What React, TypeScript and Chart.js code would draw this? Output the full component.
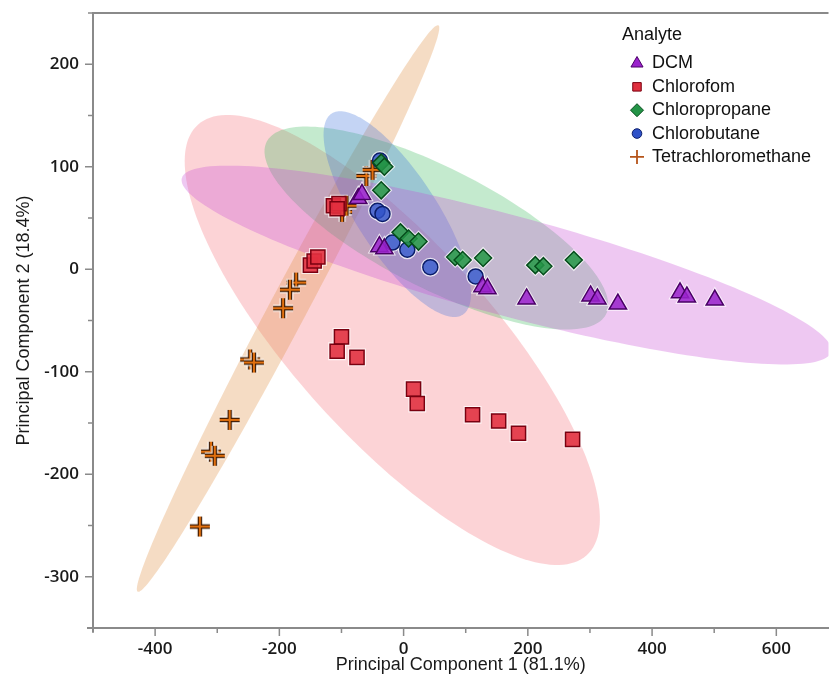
import React, { useEffect, useRef } from 'react';
import { Chart, registerables } from 'chart.js';
import { drawPoint } from 'chart.js/helpers';

Chart.register(...registerables);

// ---------- data ----------
const seriesLabels = ['DCM', 'Chlorofom', 'Chloropropane', 'Chlorobutane', 'Tetrachloromethane'];

const dcmX = [-73, -67, -39, -31, 127, 135, 198, 301, 312, 345, 445, 456, 501];
const dcmY = [69, 73, 22, 20, -17, -19, -29, -26, -29, -34, -23, -27, -30];

const chloroformX = [-113, -104, -107, -150, -144, -138, -100, -107, -75, 16, 22, 111, 153, 185, 272];
const chloroformY = [62, 64, 59, 4, 8, 12, -66, -80, -86, -117, -131, -142, -148, -160, -166];

const chloropropaneX = [-36, -31, -36, -5, 8, 24, 83, 95, 128, 212, 225, 274];
const chloropropaneY = [104, 100, 77, 36, 30, 27, 12, 9, 11, 4, 3, 9];

const chlorobutaneX = [-38, -42, -34, -18, 6, 43, 116];
const chlorobutaneY = [106, 57, 54, 26, 19, 2, -7];

const tetraX = [-60, -50, -99, -92, -173, -183, -194, -247, -241, -280, -310, -304, -328];
const tetraY = [91, 97, 56, 62, -13, -20, -38, -88, -91, -147, -178, -182, -251];

// density ellipses (data units): centre, end of major semi-axis, end of minor semi-axis
// order: DCM, Chloroform, Chloropropane, Chlorobutane, Tetrachloromethane
const ellipseCx = [165.6, -18.2, 52.7, -10.2, -186.0];
const ellipseCy = [4.1, -69.0, 40.2, 53.8, -38.3];
const ellipseMajX = [688.2, 294.7, 325.8, 95.3, 56.0];
const ellipseMajY = [-80.7, -279.0, -44.0, -44.3, 238.0];
const ellipseMinX = [186.5, 99.2, 96.6, 44.0, -159.5];
const ellipseMinY = [51.2, -5.1, 92.3, 75.0, -46.8];

const xMin = -500;
const xMax = 684;
const yMin = -350;
const yMax = 250;

// ---------- styles ----------
const fillColors = ['#9a22cc', '#e0303f', '#249447', '#2f52c8', '#d86c14'];
const pointFills = [
  'rgba(154,34,204,0.88)',
  'rgba(226,48,63,0.9)',
  'rgba(36,148,71,0.88)',
  'rgba(47,82,200,0.82)',
  '#d86c14',
];
const edgeColors = ['#4a0066', '#7a0010', '#064d1c', '#0b1d6a', '#3d1800'];
const ellipseFills = [
  'rgba(198,72,212,0.30)',
  'rgba(245,110,118,0.30)',
  'rgba(58,185,92,0.30)',
  'rgba(58,112,218,0.30)',
  'rgba(225,145,72,0.32)',
];
const ellipseOrder = [1, 4, 2, 3, 0];
const AXIS_COLOR = '#8a8a8a';
const TEXT_FONT = '"Liberation Sans", Arial, sans-serif';
const CANVAS_W = 840;

function makePlus(): HTMLCanvasElement {
  const c = document.createElement('canvas');
  c.width = 26;
  c.height = 26;
  const g = c.getContext('2d')!;
  const draw = (w: number, col: string) => {
    g.strokeStyle = col;
    g.lineWidth = w;
    g.beginPath();
    g.moveTo(3, 13);
    g.lineTo(23, 13);
    g.moveTo(13, 3);
    g.lineTo(13, 23);
    g.stroke();
  };
  draw(7, 'rgba(255,255,255,0.85)');
  draw(4.4, '#3d1800');
  draw(2, '#e0700f');
  return c;
}

const pts = (xs: number[], ys: number[]) => xs.map((x, i) => ({ x, y: ys[i] }));

const ellipsePlugin = {
  id: 'densityEllipses',
  beforeDatasetsDraw(chart: any) {
    const { ctx, chartArea, scales } = chart;
    const sx = scales.x;
    const sy = scales.y;
    ctx.save();
    ctx.beginPath();
    ctx.rect(chartArea.left, chartArea.top, chartArea.right - chartArea.left, chartArea.bottom - chartArea.top);
    ctx.clip();
    ellipseOrder.forEach((k) => {
      const cx = sx.getPixelForValue(ellipseCx[k]);
      const cy = sy.getPixelForValue(ellipseCy[k]);
      const ax = sx.getPixelForValue(ellipseMajX[k]) - cx;
      const ay = sy.getPixelForValue(ellipseMajY[k]) - cy;
      const bx = sx.getPixelForValue(ellipseMinX[k]) - cx;
      const by = sy.getPixelForValue(ellipseMinY[k]) - cy;
      ctx.beginPath();
      const n = 180;
      for (let i = 0; i <= n; i++) {
        const t = (i / n) * Math.PI * 2;
        const px = cx + Math.cos(t) * ax + Math.sin(t) * bx;
        const py = cy + Math.cos(t) * ay + Math.sin(t) * by;
        if (i === 0) ctx.moveTo(px, py);
        else ctx.lineTo(px, py);
      }
      ctx.closePath();
      ctx.fillStyle = ellipseFills[k];
      ctx.fill();
    });
    // soft white halo under every marker
    chart.data.datasets.forEach((ds: any, i: number) => {
      if (typeof ds.pointStyle !== 'string') return;
      const meta = chart.getDatasetMeta(i);
      ctx.fillStyle = 'rgba(255,255,255,0.75)';
      ctx.strokeStyle = 'rgba(255,255,255,0.75)';
      ctx.lineWidth = 3;
      meta.data.forEach((el: any) => {
        drawPoint(ctx, { pointStyle: ds.pointStyle, radius: ds.pointRadius + 0.5, borderWidth: 3, rotation: 0 } as any, el.x, el.y);
      });
    });
    ctx.restore();
  },
};

const axisPlugin = {
  id: 'axisMarks',
  afterDraw(chart: any) {
    const { ctx, chartArea, scales } = chart;
    const sx = scales.x;
    const sy = scales.y;
    ctx.save();
    ctx.strokeStyle = AXIS_COLOR;
    ctx.lineWidth = 1.5;
    ctx.beginPath();
    sx.ticks.forEach((t: any) => {
      if (t.value % 100 !== 0) return;
      const p = sx.getPixelForValue(t.value);
      const len = t.value % 200 === 0 ? 8 : 5;
      ctx.moveTo(p, chartArea.bottom);
      ctx.lineTo(p, chartArea.bottom + len);
    });
    sy.ticks.forEach((t: any) => {
      if (t.value % 50 !== 0) return;
      const p = sy.getPixelForValue(t.value);
      const len = t.value % 100 === 0 ? 8 : 5;
      ctx.moveTo(chartArea.left, p);
      ctx.lineTo(chartArea.left - len, p);
    });
    ctx.stroke();
    ctx.lineWidth = 2;
    ctx.beginPath();
    ctx.moveTo(chartArea.left, chartArea.top);
    ctx.lineTo(chartArea.right, chartArea.top);
    ctx.moveTo(chartArea.left - 6, chartArea.bottom);
    ctx.lineTo(chartArea.left, chartArea.bottom);
    ctx.moveTo(chartArea.left, chartArea.bottom);
    ctx.lineTo(chartArea.left, chartArea.bottom + 4);
    ctx.stroke();
    ctx.restore();
  },
};

const legendPlugin = {
  id: 'analyteLegend',
  afterDraw(chart: any) {
    const { ctx, chartArea } = chart;
    const left = chartArea.left + 529;
    const top = chartArea.top + 22;
    ctx.save();
    ctx.font = `18px ${TEXT_FONT}`;
    ctx.fillStyle = '#111';
    ctx.textBaseline = 'middle';
    ctx.textAlign = 'left';
    ctx.fillText('Analyte', left, top);
    const radii = [7, 6, 6.5, 4.8, 0];
    chart.data.datasets.forEach((ds: any, i: number) => {
      const y = top + 28.5 + i * 23.35;
      const mx = left + 15;
      if (i === 4) {
        ctx.strokeStyle = '#b5541a';
        ctx.lineWidth = 1.8;
        ctx.beginPath();
        ctx.moveTo(mx - 7, y);
        ctx.lineTo(mx + 7, y);
        ctx.moveTo(mx, y - 7);
        ctx.lineTo(mx, y + 7);
        ctx.stroke();
      } else {
        ctx.fillStyle = fillColors[i];
        ctx.strokeStyle = edgeColors[i];
        ctx.lineWidth = 1;
        drawPoint(ctx, { pointStyle: ds.pointStyle, radius: radii[i], borderWidth: 1, rotation: 0 } as any, mx, y);
      }
      ctx.fillStyle = '#111';
      ctx.fillText(ds.label, left + 30, y);
    });
    ctx.restore();
  },
};

export default function App() {
  const ref = useRef<HTMLCanvasElement>(null);

  useEffect(() => {
    if (!ref.current) return;
    const plus = makePlus();
    const chart = new Chart(ref.current, {
      type: 'scatter',
      data: {
        datasets: [
          {
            label: seriesLabels[0],
            data: pts(dcmX, dcmY),
            pointStyle: 'triangle',
            pointRadius: 10,
            backgroundColor: pointFills[0],
            borderColor: edgeColors[0],
            borderWidth: 1.5,
          },
          {
            label: seriesLabels[1],
            data: pts(chloroformX, chloroformY),
            pointStyle: 'rect',
            pointRadius: 10,
            backgroundColor: pointFills[1],
            borderColor: edgeColors[1],
            borderWidth: 1.5,
          },
          {
            label: seriesLabels[2],
            data: pts(chloropropaneX, chloropropaneY),
            pointStyle: 'rectRot',
            pointRadius: 8.5,
            backgroundColor: pointFills[2],
            borderColor: edgeColors[2],
            borderWidth: 1.5,
          },
          {
            label: seriesLabels[3],
            data: pts(chlorobutaneX, chlorobutaneY),
            pointStyle: 'circle',
            pointRadius: 7.5,
            backgroundColor: pointFills[3],
            borderColor: edgeColors[3],
            borderWidth: 1.5,
          },
          {
            label: seriesLabels[4],
            data: pts(tetraX, tetraY),
            pointStyle: plus as any,
            pointRadius: 10,
            backgroundColor: pointFills[4],
            borderColor: edgeColors[4],
            borderWidth: 0,
          },
        ],
      },
      options: {
        responsive: false,
        animation: false,
        devicePixelRatio: 1,
        layout: { padding: { top: 13, left: 0, right: 0, bottom: 0 } },
        plugins: {
          legend: { display: false },
          tooltip: { enabled: false },
        },
        scales: {
          x: {
            type: 'linear',
            min: xMin,
            max: xMax,
            afterFit: (s: any) => {
              s.height = 56;
              s.paddingLeft = 0;
              s.paddingRight = 0;
            },
            ticks: {
              stepSize: 100,
              autoSkip: false,
              maxRotation: 0,
              padding: 3,
              color: '#1a1a1a',
              font: { family: '"Open Sans", sans-serif', size: 17, weight: '600' },
              callback: (v: any) => (Number(v) % 200 === 0 ? String(v) : ''),
            },
            grid: { display: true, drawOnChartArea: false, drawTicks: true, tickLength: 8, color: 'rgba(0,0,0,0)' },
            border: { display: true, color: AXIS_COLOR, width: 2 },
            title: {
              display: true,
              text: 'Principal Component 1 (81.1%)',
              color: '#1a1a1a',
              font: { family: TEXT_FONT, size: 18 },
              padding: { top: 0, bottom: 8 },
            },
          },
          y: {
            type: 'linear',
            min: yMin,
            max: yMax,
            afterFit: (s: any) => {
              s.width = 93;
              s.paddingTop = 0;
              s.paddingBottom = 0;
            },
            ticks: {
              stepSize: 50,
              autoSkip: false,
              padding: 6,
              color: '#1a1a1a',
              font: { family: '"Open Sans", sans-serif', size: 17, weight: '600' },
              callback: (v: any) => (Number(v) % 100 === 0 ? String(v) : ''),
            },
            grid: { display: true, drawOnChartArea: false, drawTicks: true, tickLength: 8, color: 'rgba(0,0,0,0)' },
            border: { display: true, color: AXIS_COLOR, width: 2 },
            title: {
              display: true,
              text: 'Principal Component 2 (18.4%)',
              color: '#1a1a1a',
              font: { family: TEXT_FONT, size: 18 },
              padding: { top: 13, bottom: 0 },
            },
          },
        },
      },
      plugins: [ellipsePlugin, axisPlugin, legendPlugin],
    });
    return () => chart.destroy();
  }, []);

  return (
    <div style={{ position: 'fixed', left: 0, top: 0, width: 830, height: 684, background: '#fff', overflow: 'hidden' }}>
      <canvas ref={ref} width={CANVAS_W} height={684} style={{ width: CANVAS_W, height: 684, display: 'block' }} />
    </div>
  );
}
